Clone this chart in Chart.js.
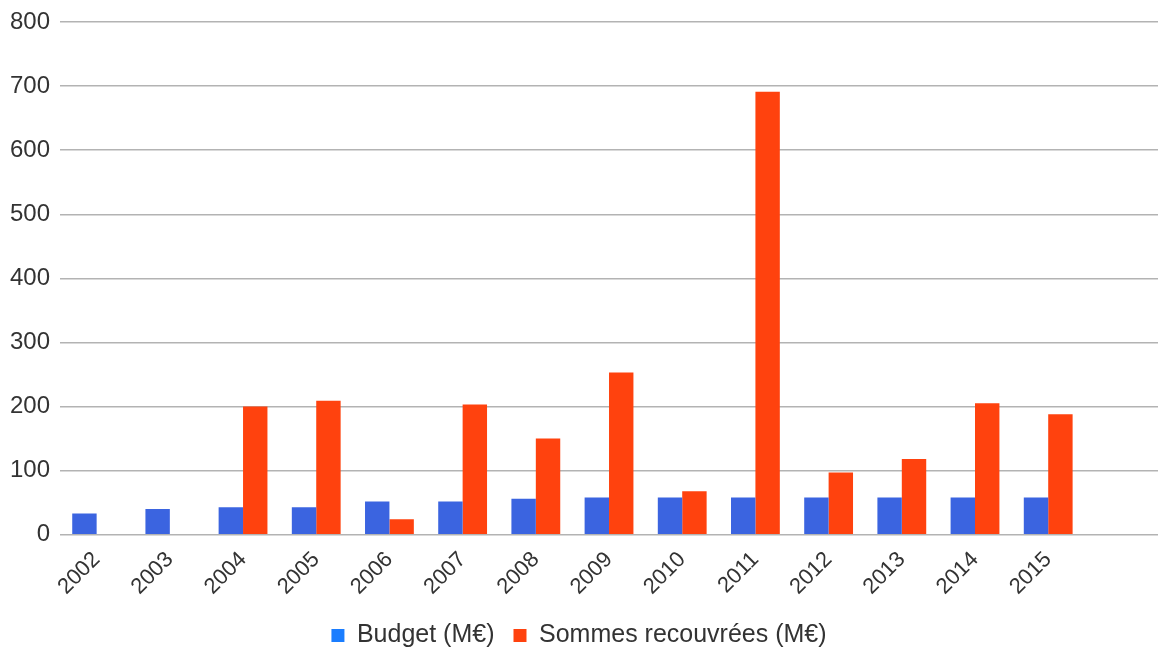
<!DOCTYPE html>
<html>
<head>
<meta charset="utf-8">
<script src="https://cdn.jsdelivr.net/npm/chart.js@4/dist/chart.umd.min.js"></script>
<style>
  html, body { margin: 0; padding: 0; background: #fff; }
  #wrap { width: 1158px; height: 650px; }
</style>
</head>
<body>
<div id="wrap"><canvas id="c"></canvas></div>
<script>
// values
const years = ['2002', '2003', '2004', '2005', '2006', '2007', '2008', '2009', '2010', '2011', '2012', '2013', '2014', '2015', ''];
const budget = [33, 40, 43, 43, 52, 52, 56, 58, 58, 58, 58, 58, 58, 58, null];
const recovered = [null, null, 200, 209, 24, 203, 150, 253, 68, 691, 97, 118, 205, 188, null];
const yTicks = [0, 100, 200, 300, 400, 500, 600, 700, 800];

const seriesNames = ['Budget (M€)', 'Sommes recouvrées (M€)'];
const barColors = ['#3b64e0', '#ff420e'];
const legendColors = ['#1a7dff', '#ff420e'];
const font = "'Liberation Sans', Arial, sans-serif";

new Chart(document.getElementById('c'), {
  type: 'bar',
  data: {
    labels: years,
    datasets: [
      { label: seriesNames[0], data: budget, backgroundColor: barColors[0] },
      { label: seriesNames[1], data: recovered, backgroundColor: barColors[1] }
    ]
  },
  options: {
    responsive: true,
    maintainAspectRatio: false,
    animation: false,
    layout: { padding: { top: 8, right: 0, left: 0, bottom: -8 } },
    datasets: { bar: { categoryPercentage: 0.667, barPercentage: 1, borderWidth: 0 } },
    plugins: {
      tooltip: { enabled: false },
      legend: {
        position: 'bottom',
        labels: {
          font: { family: font, size: 25 },
          color: '#333',
          boxWidth: 13,
          boxHeight: 13,
          padding: 19,
          generateLabels: (chart) => chart.data.datasets.map((ds, i) => ({
            text: ds.label, fillStyle: legendColors[i], strokeStyle: legendColors[i],
            lineWidth: 0, datasetIndex: i, fontColor: '#333'
          }))
        }
      }
    },
    scales: {
      x: {
        grid: { display: false },
        border: { display: false },
        ticks: { font: { family: font, size: 22 }, color: '#333', maxRotation: 45, minRotation: 45, padding: 4, autoSkip: false }
      },
      y: {
        min: 0, max: 800,
        afterBuildTicks: (axis) => { axis.ticks = yTicks.map(v => ({ value: v })); },
        grid: { color: '#b3b3b3', drawTicks: false, lineWidth: 1.5 },
        border: { display: false },
        ticks: { font: { family: font, size: 24, lineHeight: 1 }, color: '#333', padding: 10 }
      }
    }
  }
});
</script>
</body>
</html>
